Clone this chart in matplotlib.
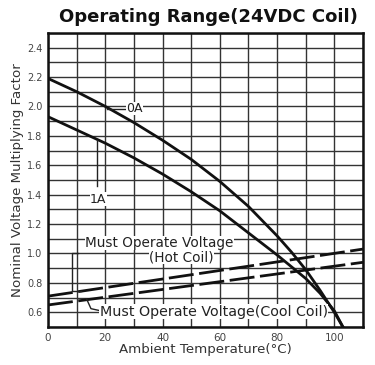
import numpy as np
import matplotlib.pyplot as plt

# curve readings
temp = [0, 10, 20, 30, 40, 50, 60, 70, 80, 85, 90, 95, 100, 103]
curve_0a = [2.19, 2.10, 2.00, 1.89, 1.77, 1.64, 1.49, 1.32, 1.12, 1.01, 0.89, 0.75, 0.60, 0.50]
curve_1a = [1.93, 1.84, 1.75, 1.65, 1.54, 1.42, 1.29, 1.14, 0.99, 0.91, 0.83, 0.73, 0.61, 0.50]

line_temp = [0, 110]
hot_coil = [0.71, 1.03]
cool_coil = [0.65, 0.94]

x_ticks = [0, 20, 40, 60, 80, 100]
y_ticks = [0.6, 0.8, 1.0, 1.2, 1.4, 1.6, 1.8, 2.0, 2.2, 2.4]

plt.rcParams['font.family'] = ['DejaVu Sans']

fig = plt.figure(figsize=(3.75, 3.65), dpi=100)
ax = fig.add_axes([0.128, 0.104, 0.84, 0.806])

ax.set_xlim(0, 110)
ax.set_ylim(0.5, 2.5)
ax.set_xticks(np.arange(0, 111, 10), minor=True)
ax.set_yticks(np.arange(0.5, 2.51, 0.1), minor=True)
ax.set_xticks(x_ticks)
ax.set_yticks(y_ticks)
ax.set_xticklabels([str(v) for v in x_ticks], fontsize=7.5, color='#444444')
ax.set_yticklabels(['%.1f' % v for v in y_ticks], fontsize=7, color='#444444')
ax.tick_params(which='both', length=0, pad=4)
ax.grid(True, which='both', color='#333333', linewidth=1.0)
ax.set_axisbelow(True)
for s in ax.spines.values():
    s.set_linewidth(1.8)
    s.set_color('#111111')

ax.plot(temp, curve_0a, color='#111111', lw=2.0, solid_joinstyle='round')
ax.plot(temp, curve_1a, color='#111111', lw=2.0, solid_joinstyle='round')
ax.plot(line_temp, hot_coil, color='#111111', lw=2.0, dashes=(9, 2))
ax.plot(line_temp, cool_coil, color='#111111', lw=2.0, dashes=(9, 2))

# labels and leaders
wbox = dict(facecolor='white', edgecolor='none', pad=0.2)
ax.plot([20.5, 27], [1.985, 1.985], color='#222222', lw=1.0)
ax.text(27.3, 1.985, '0A', fontsize=9, va='center', ha='left', bbox=wbox, color='#222222')
ax.plot([17, 17], [1.77, 1.46], color='#222222', lw=1.0)
ax.text(17.5, 1.37, '1A', fontsize=9, va='center', ha='center', bbox=wbox, color='#222222')

ax.plot([10.5, 8.4, 8.4, 11.5], [1.00, 1.00, 0.745, 0.745], color='#222222', lw=1.0)
ax.text(13, 1.07, 'Must Operate Voltage', fontsize=9.8, va='center', ha='left',
        bbox=wbox, color='#222222')
ax.text(46.5, 0.975, '(Hot Coil)', fontsize=9.8, va='center', ha='center',
        bbox=wbox, color='#222222')
ax.plot([13.5, 15, 18], [0.69, 0.625, 0.612], color='#222222', lw=1.0)
ax.text(18, 0.605, 'Must Operate Voltage(Cool Coil)', fontsize=10.3, va='center', ha='left',
        bbox=wbox, color='#222222')

ax.set_xlabel('Ambient Temperature(\u00b0C)', fontsize=9.6, labelpad=0, color='#333333')
ax.set_ylabel('Nominal Voltage Multiplying Factor', fontsize=9.6, labelpad=2, color='#333333')
fig.text(0.557, 0.953, 'Operating Range(24VDC Coil)', fontsize=13, fontweight='bold',
         ha='center', va='center', color='#111111')

fig.savefig('out.png', dpi=100)
